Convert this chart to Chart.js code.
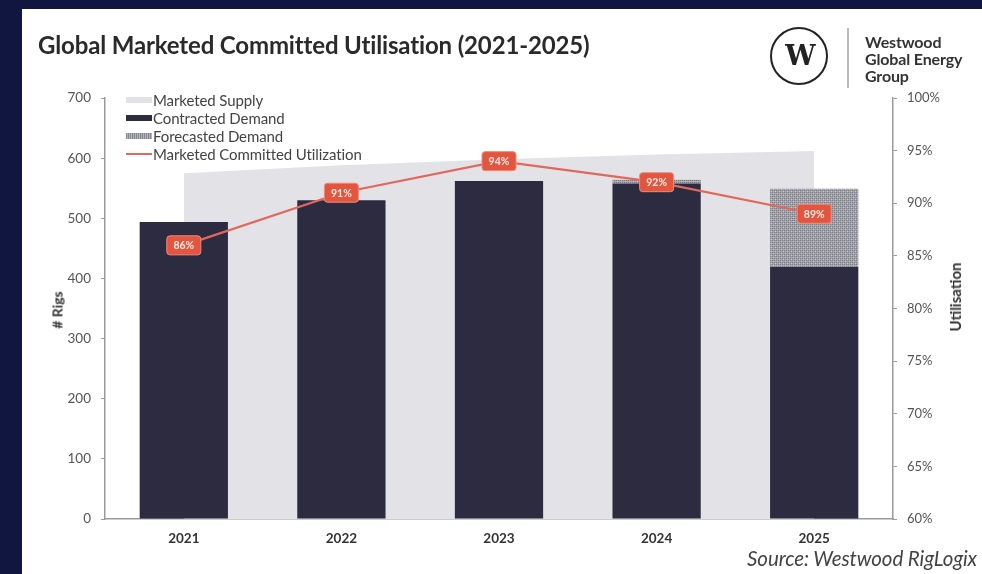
<!DOCTYPE html>
<html>
<head>
<meta charset="utf-8">
<script src="https://cdn.jsdelivr.net/npm/chart.js@4.4.1/dist/chart.umd.min.js"></script>
<style>
  html, body { margin:0; padding:0; width:982px; height:574px; overflow:hidden; background:#111640; font-family:Lato, "Open Sans", sans-serif; }
  #panel { position:absolute; left:22px; top:9px; width:960px; height:565px; background:#fff; }
  #cv { position:absolute; left:0; top:0; }
  .abs { position:absolute; white-space:nowrap; }
  #title { left:38px; top:30px; font-size:24px; font-weight:700; color:#2a2a2a; letter-spacing:-0.15px; }
  #circle { left:770px; top:27px; width:58px; height:58px; border:2.5px solid #222; border-radius:50%; box-sizing:border-box; text-align:center; line-height:54px; font-family:"DejaVu Serif", serif; font-weight:700; font-size:27px; color:#222; letter-spacing:-3px; }
  #vline { left:847px; top:28px; width:2px; height:60px; background:#bbb; }
  #brand { left:865px; top:33px; font-size:16px; font-weight:700; color:#333; line-height:17px; letter-spacing:-0.15px; }
  #source { right:5px; top:546px; font-size:20.5px; font-style:italic; color:#444; letter-spacing:-0.1px; }
  #ytitle { left:57px; top:310px; transform:translate(-50%,-50%) rotate(-90deg); font-size:14px; font-weight:700; color:#333; }
  #y1title { left:955px; top:297px; transform:translate(-50%,-50%) rotate(-90deg); font-size:15px; font-weight:700; color:#333; }
  #legend { left:126px; top:91px; font-size:15px; color:#444; letter-spacing:-0.1px; }
  .li { height:18px; line-height:18px; display:flex; align-items:center; }
  .sw { width:26px; height:6px; margin-right:1px; }
</style>
</head>
<body>
<div id="panel"></div>
<canvas id="cv" width="982" height="574"></canvas>
<div class="abs" id="title">Global Marketed Committed Utilisation (2021-2025)</div>
<div class="abs" id="circle">W</div>
<div class="abs" id="vline"></div>
<div class="abs" id="brand">Westwood<br>Global Energy<br>Group</div>
<div class="abs" id="ytitle"># Rigs</div>
<div class="abs" id="y1title">Utilisation</div>
<div class="abs" id="source">Source: Westwood RigLogix</div>
<div class="abs" id="legend">
  <div class="li"><span class="sw" style="background:#e3e3e7"></span>Marketed Supply</div>
  <div class="li"><span class="sw" style="background:#2d2b3f"></span>Contracted Demand</div>
  <div class="li"><span class="sw" style="background:repeating-linear-gradient(90deg,#85858f 0 1px,#b4b4bb 1px 2px)"></span>Forecasted Demand</div>
  <div class="li"><span class="sw" style="height:2px;background:#e0685c"></span>Marketed Committed Utilization</div>
</div>
<script>
// ---- data ----
const years = ["2021", "2022", "2023", "2024", "2025"];
const marketedSupply = [575, 588, 598, 606, 612];
const contractedDemand = [494, 530, 562, 558, 419];
const forecastedDemand = [0, 0, 0, 6, 130];
const utilisation = [86, 91, 94, 92, 89];
const rigTicks = [0, 100, 200, 300, 400, 500, 600, 700];
const utilTicks = [60, 65, 70, 75, 80, 85, 90, 95, 100];

// hatch pattern
function makeHatch() {
  const c = document.createElement('canvas');
  c.width = 4; c.height = 4;
  const g = c.getContext('2d');
  g.fillStyle = '#a4a4ac'; g.fillRect(0, 0, 4, 4);
  g.fillStyle = '#7c7c87';
  g.fillRect(0, 0, 1, 1); g.fillRect(2, 2, 1, 1); g.fillRect(2, 0, 1, 1); g.fillRect(0, 2, 1, 1);
  g.fillStyle = '#c4c4ca';
  g.fillRect(1, 1, 1, 1); g.fillRect(3, 3, 1, 1);
  return g.createPattern(c, 'repeat');
}
const hatch = makeHatch();

const labelPlugin = {
  id: 'utilLabels',
  afterDatasetsDraw(chart) {
    const ctx = chart.ctx;
    const idx = chart.data.datasets.findIndex(d => d.id === 'util');
    const meta = chart.getDatasetMeta(idx);
    ctx.save();
    ctx.font = '700 10.5px Lato, sans-serif';
    ctx.textAlign = 'center';
    ctx.textBaseline = 'middle';
    meta.data.forEach((pt, i) => {
      const w = 34, h = 19;
      const x = pt.x, y = pt.y;
      ctx.fillStyle = '#e2553f';
      ctx.strokeStyle = '#f08a7a';
      ctx.lineWidth = 1;
      ctx.beginPath();
      ctx.roundRect(x - w / 2, y - h / 2, w, h, 3);
      ctx.fill();
      ctx.stroke();
      ctx.fillStyle = '#ffe9e4';
      ctx.fillText(chart.data.datasets[idx].data[i] + '%', x, y + 0.5);
    });
    ctx.restore();
  }
};

const tickFont = { family: 'Lato, sans-serif', size: 13.5 };

new Chart(document.getElementById('cv'), {
  type: 'bar',
  data: {
    labels: years,
    datasets: [
      {
        type: 'line', label: 'Marketed Supply', data: marketedSupply, yAxisID: 'y', stack: 'supply',
        backgroundColor: '#e3e3e7', borderWidth: 0, pointRadius: 0, fill: 'origin', order: 3, tension: 0
      },
      {
        label: 'Contracted Demand', data: contractedDemand, yAxisID: 'y', stack: 'demand',
        backgroundColor: '#2d2b3f', order: 2, categoryPercentage: 1, barPercentage: 0.56
      },
      {
        label: 'Forecasted Demand', data: forecastedDemand, yAxisID: 'y', stack: 'demand',
        backgroundColor: hatch, order: 2, categoryPercentage: 1, barPercentage: 0.56
      },
      {
        id: 'util', type: 'line', label: 'Marketed Committed Utilization', data: utilisation, yAxisID: 'y1',
        borderColor: '#e0685c', borderWidth: 2.2, pointRadius: 0, fill: false, order: 1, tension: 0
      }
    ]
  },
  options: {
    responsive: false,
    animation: false,
    layout: { padding: { top: 98, left: 0, right: 0, bottom: 0 } },
    plugins: { legend: { display: false }, tooltip: { enabled: false }, title: { display: false } },
    scales: {
      x: {
        stacked: true,
        grid: { display: false, drawTicks: false },
        border: { display: true, color: '#9a9a9a', width: 1.5 },
        ticks: { font: { family: 'Lato, sans-serif', size: 13.5, weight: '700' }, color: '#333', padding: 12 },
        afterFit(s) { s.height = 55; }
      },
      y: {
        position: 'left', stacked: true, min: 0, max: 700,
        afterBuildTicks(s) { s.ticks = rigTicks.map(v => ({ value: v })); },
        grid: { drawOnChartArea: false, drawTicks: true, tickLength: 4, color: '#9a9a9a' },
        border: { display: true, color: '#9a9a9a', width: 1.5 },
        ticks: { font: tickFont, color: '#555', padding: 10 },
        afterFit(s) { s.width = 105; }
      },
      y1: {
        position: 'right', min: 60, max: 100,
        afterBuildTicks(s) { s.ticks = utilTicks.map(v => ({ value: v })); },
        grid: { drawOnChartArea: false, drawTicks: true, tickLength: 4, color: '#9a9a9a' },
        border: { display: true, color: '#9a9a9a', width: 1.5 },
        ticks: { font: { family: 'Lato, sans-serif', size: 13 }, color: '#555', padding: 10, callback: v => v + '%' },
        afterFit(s) { s.width = 89; }
      }
    }
  },
  plugins: [labelPlugin]
});
</script>
</body>
</html>
